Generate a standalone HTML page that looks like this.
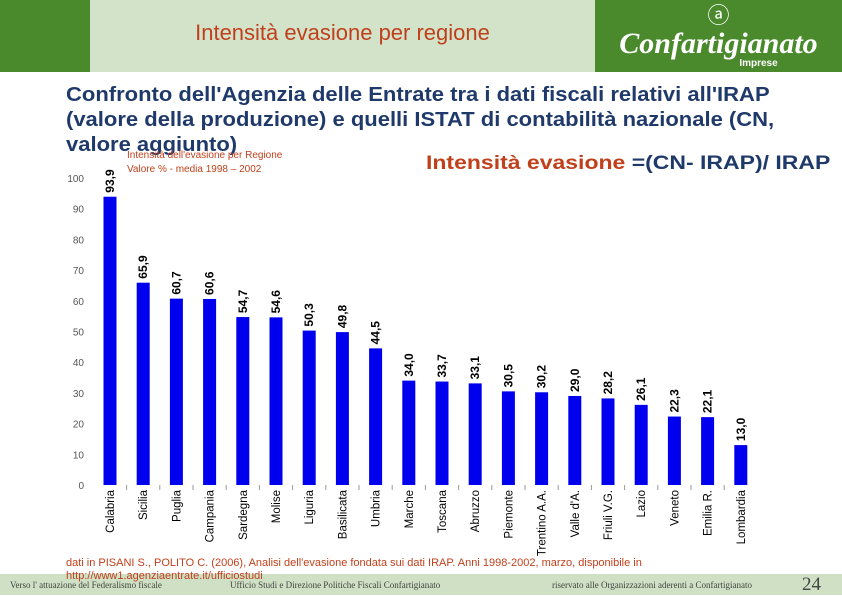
<!DOCTYPE html>
<html><head><meta charset="utf-8"><style>
body{margin:0;width:842px;height:595px;overflow:hidden;background:#fff;font-family:"Liberation Sans",sans-serif;position:relative}
div{position:absolute}
</style></head><body>
<div style="left:0;top:0;width:90px;height:72px;background:#4a8a2c"></div>
<div style="left:90px;top:0;width:505px;height:72px;background:#d3e3c9"></div>
<div style="left:595px;top:0;width:247px;height:72px;background:#4a8a2c"></div>
<div style="left:90px;top:20px;width:505px;text-align:center;font-size:22px;color:#c0401c">Intensità evasione per regione</div>
<div style="left:595px;top:2px;width:247px;text-align:center;color:#fff">
<div style="position:relative;font-size:22px;line-height:28px">ⓐ</div>
<div style="position:relative;font-family:'Liberation Serif',serif;font-style:italic;font-weight:bold;font-size:30px;line-height:28px">Confartigianato</div>
<div style="position:relative;font-size:10px;font-weight:bold;left:40px">Imprese</div></div>
<div style="left:66px;top:83px;width:780px;font-size:20px;line-height:25px;color:#1f3a6a;font-weight:bold;white-space:nowrap">
<div style="position:relative;transform:scaleX(1.1);transform-origin:left">Confronto dell'Agenzia delle Entrate tra i dati fiscali relativi all'IRAP</div>
<div style="position:relative;transform:scaleX(1.1);transform-origin:left">(valore della produzione) e quelli ISTAT di contabilità nazionale (CN,</div>
<div style="position:relative;transform:scaleX(1.1);transform-origin:left">valore aggiunto)</div></div>
<div style="left:426px;top:153px;font-size:19px;color:#c0401c;font-weight:bold;white-space:nowrap;transform:scaleX(1.21);transform-origin:left">Intensità evasione <span style="color:#1f3a6a">=(CN- IRAP)/ IRAP</span></div>
<div style="left:127px;top:149px;font-size:10px;color:#c0401c;line-height:14px">Intensità dell'evasione per Regione<br>Valore % - media 1998 – 2002</div>
<svg width="842" height="595" style="position:absolute;left:0;top:0" id="chart"></svg>
<div style="left:66px;top:557px;font-size:11px;color:#c0401c;line-height:13px">dati in PISANI S., POLITO C. (2006), Analisi dell'evasione fondata sui dati IRAP. Anni 1998-2002, marzo, disponibile in<br>http://www1.agenziaentrate.it/ufficiostudi</div>
<div style="left:0;top:574px;width:842px;height:21px;background:#cfe0c4;z-index:-1"></div>
<div style="left:10px;top:580px;font-family:'Liberation Serif',serif;font-size:9px;color:#444">Verso l' attuazione del Federalismo fiscale</div>
<div style="left:230px;top:580px;font-family:'Liberation Serif',serif;font-size:9px;color:#444">Ufficio Studi e Direzione Politiche Fiscali Confartigianato</div>
<div style="left:552px;top:580px;font-family:'Liberation Serif',serif;font-size:9px;color:#444">riservato alle Organizzazioni aderenti a Confartigianato</div>
<div style="left:802px;top:574px;font-family:'Liberation Serif',serif;font-size:19px;color:#444">24</div>
<script>
const categories=["Calabria","Sicilia","Puglia","Campania","Sardegna","Molise","Liguria","Basilicata","Umbria","Marche","Toscana","Abruzzo","Piemonte","Trentino A.A.","Valle d'A.","Friuli V.G.","Lazio","Veneto","Emilia R.","Lombardia"];
const values=[93.9,65.9,60.7,60.6,54.7,54.6,50.3,49.8,44.5,34.0,33.7,33.1,30.5,30.2,29.0,28.2,26.1,22.3,22.1,13.0];
const yTicks=[0,10,20,30,40,50,60,70,80,90,100];
const NS="http://www.w3.org/2000/svg",svg=document.getElementById('chart');
const y=v=>485-v*3.07, x=i=>110+i*33.2;
function mk(t,a,txt){const e=document.createElementNS(NS,t);for(const k in a)e.setAttribute(k,a[k]);if(txt!=null)e.textContent=txt;svg.appendChild(e);return e;}
yTicks.forEach(v=>{const t=mk('text',{x:84,y:y(v)+4,'text-anchor':'end','font-size':10,fill:'#555','font-family':'Liberation Sans'},v);
});
categories.forEach((c,i)=>{
const r=mk('rect',{x:x(i)-6.5,y:y(values[i]),width:13,height:485-y(values[i]),fill:'#0000ee'});


const vx=x(i)+4,vy=y(values[i])-4;
const l=mk('text',{x:vx,y:vy,transform:`rotate(-90 ${vx} ${vy})`,'font-size':12,'font-weight':'bold',fill:'#000','font-family':'Liberation Sans'},values[i].toFixed(1).replace('.',','));


const cx=x(i)+4,cy=490;
const k=mk('text',{x:cx,y:cy,transform:`rotate(-90 ${cx} ${cy})`,'text-anchor':'end','font-size':11.5,fill:'#000','font-family':'Liberation Sans'},c);


if(i>0){const tk=mk('line',{x1:x(i)-16.6,x2:x(i)-16.6,y1:485,y2:490,stroke:'#999'});}
});
</script>
</body></html>
